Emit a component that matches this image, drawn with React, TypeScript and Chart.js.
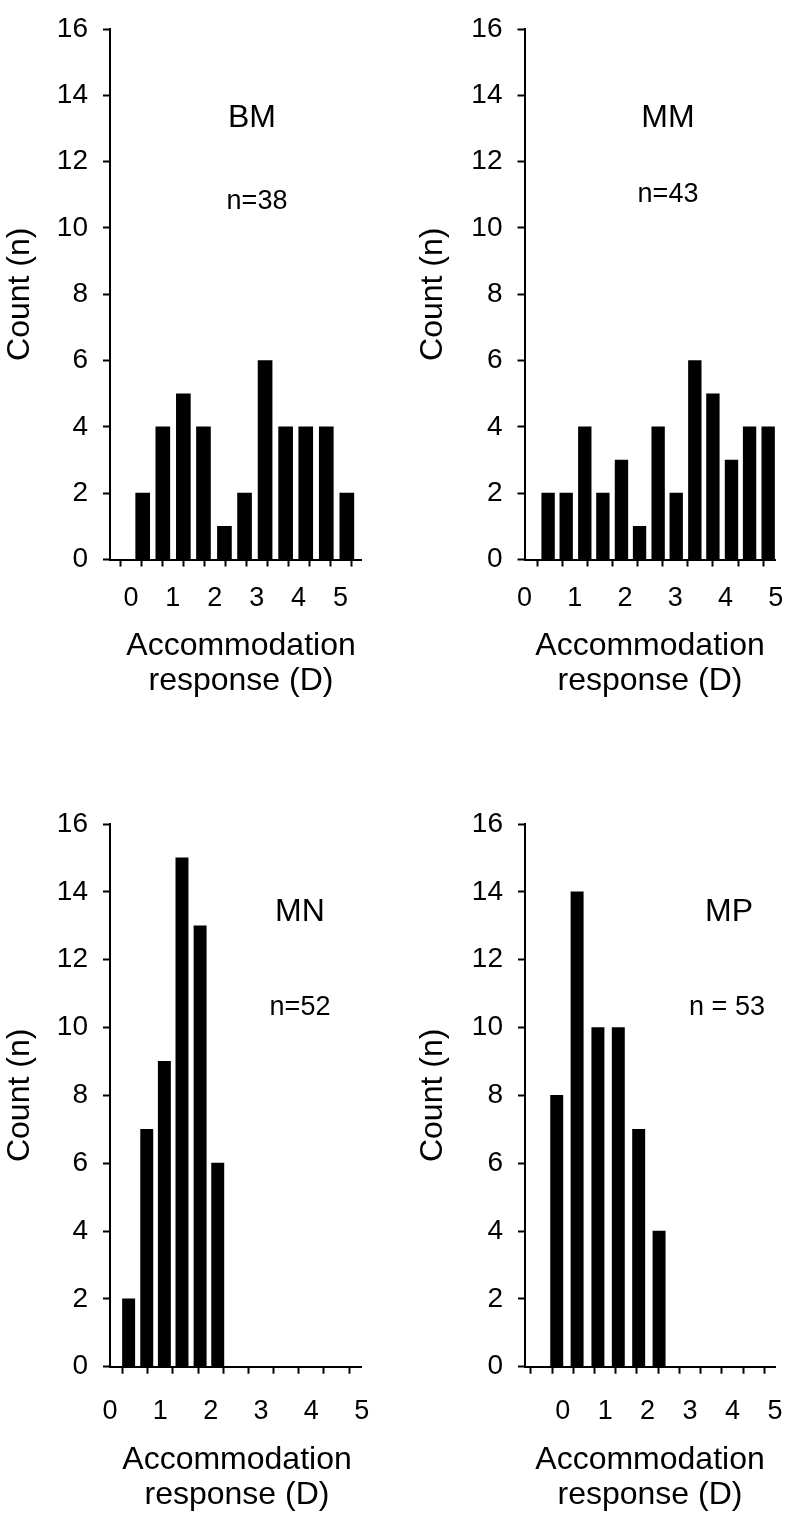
import React, { useEffect, useRef } from "react";
import { Chart, registerables } from "chart.js";

Chart.register(...registerables);

const FONT = '"Liberation Sans", Arial, sans-serif';

// ---- data ----
const yTickValues = [0, 2, 4, 6, 8, 10, 12, 14, 16];
const xTickLabels = ["0", "1", "2", "3", "4", "5"];

const bmBins = [0.28, 0.76, 1.25, 1.73, 2.23, 2.71, 3.2, 3.69, 4.17, 4.66, 5.15];
const bmCounts = [2, 4, 5, 4, 1, 2, 6, 4, 4, 4, 2];

const mmBins = [0.47, 0.83, 1.2, 1.56, 1.93, 2.29, 2.66, 3.02, 3.39, 3.75, 4.12, 4.48, 4.85];
const mmCounts = [2, 2, 4, 2, 3, 1, 4, 2, 6, 5, 3, 4, 4];

const mnBins = [0.37, 0.73, 1.08, 1.43, 1.79, 2.14];
const mnCounts = [2, 7, 9, 15, 13, 6];

const mpBins = [-0.14, 0.34, 0.83, 1.31, 1.79, 2.27];
const mpCounts = [8, 14, 10, 10, 7, 4];

const bmTicks = [-0.5, 0, 0.5, 1, 1.5, 2, 2.5, 3, 3.5, 4, 4.5, 5, 5.5];
const mmTicks = [0, 0.5, 1, 1.5, 2, 2.5, 3, 3.5, 4, 4.5, 5];
const mnTicks = [0, 0.5, 1, 1.5, 2, 2.5, 3, 3.5, 4, 4.5, 5];
const mpTicks = [-0.5, 0, 0.5, 1, 1.5, 2, 2.5, 3, 3.5, 4, 4.5, 5];

const groupLabels = ["BM", "MM", "MN", "MP"];
const nLabels = ["n=38", "n=43", "n=52", "n = 53"];
const yTitle = "Count (n)";
const xTitleLines = ["Accommodation", "response (D)"];

type Panel = {
  left: number;
  top: number;
  width: number;
  height: number;
  areaLeft: number;
  areaRight: number;
  areaTop: number;
  areaBottom: number;
  xMin: number;
  xMax: number;
  ticks: number[];
  bins: number[];
  counts: number[];
  barWidth: number;
  label: string;
  nText: string;
  labelX: number;
  labelY: number;
  nX: number;
  nY: number;
  yTitleX: number;
  xTitleX: number;
  xTitleY: number;
  xLabelOffset: number; // distance from axis line to centre of tick labels
};

const panels: Panel[] = [
  {
    left: 0, top: 0, width: 393, height: 760,
    areaLeft: 110, areaRight: 361.5, areaTop: 16, areaBottom: 559.5,
    xMin: -0.5, xMax: 5.5, ticks: bmTicks, bins: bmBins, counts: bmCounts, barWidth: 14,
    label: groupLabels[0], nText: nLabels[0],
    labelX: 252, labelY: 118, nX: 257, nY: 202,
    yTitleX: 20, xTitleX: 241, xTitleY: 646, xLabelOffset: 39,
  },
  {
    left: 393, top: 0, width: 393, height: 760,
    areaLeft: 131.5, areaRight: 382.7, areaTop: 16, areaBottom: 559.5,
    xMin: 0, xMax: 5, ticks: mmTicks, bins: mmBins, counts: mmCounts, barWidth: 12.7,
    label: groupLabels[1], nText: nLabels[1],
    labelX: 668, labelY: 118, nX: 668, nY: 195,
    yTitleX: 433, xTitleX: 650, xTitleY: 646, xLabelOffset: 39,
  },
  {
    left: 0, top: 760, width: 393, height: 761,
    areaLeft: 110, areaRight: 361.7, areaTop: 64, areaBottom: 606.7,
    xMin: 0, xMax: 5, ticks: mnTicks, bins: mnBins, counts: mnCounts, barWidth: 12.3,
    label: groupLabels[2], nText: nLabels[2],
    labelX: 300, labelY: 912, nX: 300, nY: 1008,
    yTitleX: 20, xTitleX: 237, xTitleY: 1460, xLabelOffset: 45,
  },
  {
    left: 393, top: 760, width: 393, height: 761,
    areaLeft: 132, areaRight: 382, areaTop: 64, areaBottom: 606.7,
    xMin: -0.887, xMax: 5, ticks: mpTicks, bins: mpBins, counts: mpCounts, barWidth: 12.3,
    label: groupLabels[3], nText: nLabels[3],
    labelX: 729, labelY: 912, nX: 727, nY: 1008,
    yTitleX: 433, xTitleX: 650, xTitleY: 1460, xLabelOffset: 45,
  },
];

const X_FONT_SIZE = 27;
const TICK_LEN = 7;
const X_TICK_PAD = 2;

function PanelChart({ p }: { p: Panel }) {
  const ref = useRef<HTMLCanvasElement | null>(null);

  useEffect(() => {
    if (!ref.current) return;
    const textPlugin = {
      id: "panelText",
      afterDraw(chart: any) {
        const ctx = chart.ctx as CanvasRenderingContext2D;
        const area = chart.chartArea;
        ctx.save();
        ctx.fillStyle = "#000";
        ctx.textAlign = "center";
        ctx.textBaseline = "middle";
        ctx.font = `32px ${FONT}`;
        ctx.fillText(p.label, p.labelX - p.left, p.labelY - p.top);
        ctx.font = `27px ${FONT}`;
        ctx.fillText(p.nText, p.nX - p.left, p.nY - p.top);
        ctx.font = `32px ${FONT}`;
        ctx.fillText(xTitleLines[0], p.xTitleX - p.left, p.xTitleY - p.top);
        ctx.fillText(xTitleLines[1], p.xTitleX - p.left, p.xTitleY - p.top + 35);
        ctx.translate(p.yTitleX - p.left, (area.top + area.bottom) / 2);
        ctx.rotate(-Math.PI / 2);
        ctx.fillText(yTitle, 0, 0);
        ctx.restore();
      },
    };

    // label centre = axis + tickLength + padding + lineHeight/2
    const xLineHeightPx = 2 * (p.xLabelOffset - TICK_LEN - X_TICK_PAD);

    const chart = new Chart(ref.current, {
      type: "bar",
      data: {
        datasets: [
          {
            data: p.bins.map((x, i) => ({ x, y: p.counts[i] })),
            backgroundColor: "#000",
            borderWidth: 0,
            barThickness: p.barWidth,
            grouped: false,
          } as any,
        ],
      },
      options: {
        animation: false,
        responsive: false,
        maintainAspectRatio: false,
        devicePixelRatio: 1,
        layout: {
          padding: { left: 0, top: p.areaTop, right: p.width - p.areaRight, bottom: 0 },
        },
        plugins: { legend: { display: false }, tooltip: { enabled: false } },
        scales: {
          x: {
            type: "linear",
            min: p.xMin,
            max: p.xMax,
            offset: false,
            afterBuildTicks: (s: any) => {
              s.ticks = p.ticks.map((v) => ({ value: v }));
            },
            afterFit: (s: any) => {
              s.height = p.height - p.areaBottom;
            },
            grid: {
              display: true,
              drawOnChartArea: false,
              drawTicks: true,
              tickLength: TICK_LEN,
              tickWidth: 2,
              tickColor: "#000",
            },
            border: { display: true, color: "#000", width: 2 },
            ticks: {
              autoSkip: false,
              maxRotation: 0,
              minRotation: 0,
              padding: X_TICK_PAD,
              color: "#000",
              font: { family: FONT, size: X_FONT_SIZE, lineHeight: xLineHeightPx / X_FONT_SIZE },
              callback: (v: any) => {
                const n = Number(v);
                return Number.isInteger(n) && xTickLabels.includes(String(n)) ? String(n) : "";
              },
            },
          },
          y: {
            type: "linear",
            min: 0,
            max: 16,
            afterBuildTicks: (s: any) => {
              s.ticks = yTickValues.map((v) => ({ value: v }));
            },
            afterFit: (s: any) => {
              s.width = p.areaLeft;
            },
            grid: {
              display: true,
              drawOnChartArea: false,
              drawTicks: true,
              tickLength: TICK_LEN,
              tickWidth: 2,
              tickColor: "#000",
            },
            border: { display: true, color: "#000", width: 2 },
            ticks: {
              autoSkip: false,
              padding: 15,
              color: "#000",
              font: { family: FONT, size: 28, lineHeight: 1 },
            },
          },
        },
      } as any,
      plugins: [textPlugin],
    });
    return () => chart.destroy();
  }, [p]);

  return (
    <canvas
      ref={ref}
      width={p.width}
      height={p.height}
      style={{ position: "absolute", left: p.left, top: p.top, width: p.width, height: p.height }}
    />
  );
}

export default function App() {
  return (
    <div
      style={{
        position: "absolute",
        left: 0,
        top: 0,
        width: 786,
        height: 1521,
        background: "#fff",
        overflow: "hidden",
      }}
    >
      {panels.map((p, i) => (
        <PanelChart key={i} p={p} />
      ))}
    </div>
  );
}
